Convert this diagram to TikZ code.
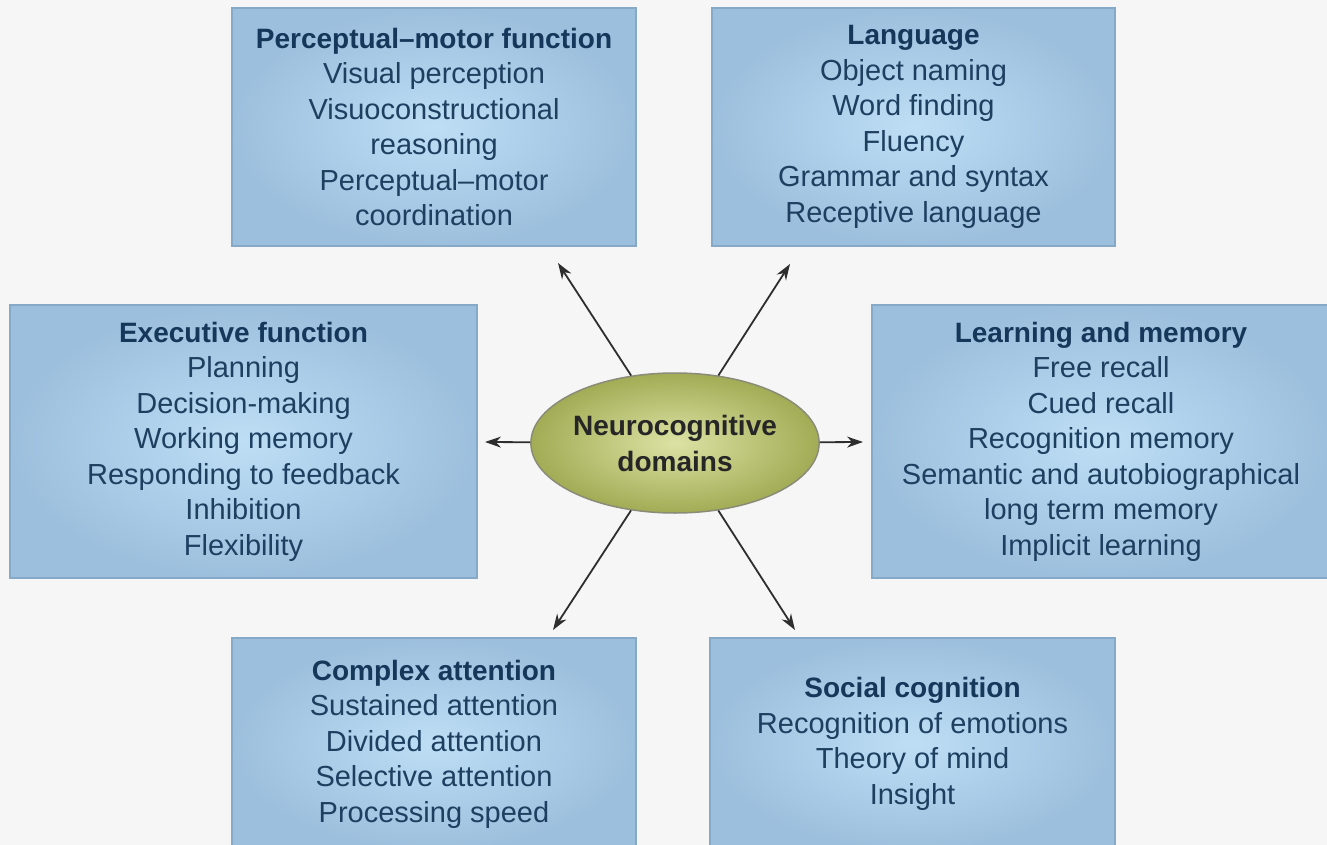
\documentclass[tikz,border=0pt]{standalone}
\usepackage{fontspec}
\setmainfont{Liberation Sans}
\usetikzlibrary{arrows.meta,shapes.geometric}
\definecolor{bg}{HTML}{F6F6F6}
\definecolor{boxin}{HTML}{BEDEF5}
\definecolor{boxout}{HTML}{9CBFDD}
\definecolor{boxedge}{HTML}{86A9C8}
\definecolor{txt}{HTML}{1E3F60}
\definecolor{ttlc}{HTML}{15375A}
\definecolor{ellin}{HTML}{DCE2A4}
\definecolor{ellout}{HTML}{A2AC55}
\definecolor{elledge}{HTML}{8A8C78}
\definecolor{arrc}{HTML}{2E2E2E}
\newcommand{\ttl}[1]{{\color{ttlc}\bfseries\fontsize{28}{35.5}\selectfont #1}}
\begin{document}
\begin{tikzpicture}[x=1pt,y=-1pt,
  box/.style={rectangle, draw=boxedge, line width=1.2pt, inner color=boxin, outer color=boxout,
    align=center, text=txt, font=\fontsize{29}{35.5}\selectfont, inner sep=0pt},
  hub/.style={ellipse, draw=elledge, line width=1.5pt, inner color=ellin, outer color=ellout,
    align=center, text=black!85, font=\bfseries\fontsize{28}{36}\selectfont, inner sep=0pt,
    minimum width=254pt, minimum height=140pt},
  arr/.style={draw=arrc, line width=1.8pt, -{Stealth[length=16pt,width=11pt]}}]
\useasboundingbox (0,0) rectangle (1327,845);
\clip (0,0) rectangle (1327,845);
\fill[bg] (0,0) rectangle (1327,845);

\node[box, minimum width=404pt, minimum height=238pt] (pm) at (434,127)
  {\ttl{Perceptual–motor function}\\Visual perception\\Visuoconstructional\\reasoning\\Perceptual–motor\\coordination};
\node[box, minimum width=403pt, minimum height=238pt] (lang) at (913.5,127)
  {\ttl{Language}\\Object naming\\Word finding\\Fluency\\Grammar and syntax\\Receptive language};
\node[box, minimum width=467pt, minimum height=273pt] (exec) at (243.5,441.5)
  {\ttl{Executive function}\\Planning\\Decision-making\\Working memory\\Responding to feedback\\Inhibition\\Flexibility};
\node[box, minimum width=458pt, minimum height=273pt] (learn) at (1101,441.5)
  {\ttl{Learning and memory}\\Free recall\\Cued recall\\Recognition memory\\Semantic and autobiographical\\long term memory\\Implicit learning};
\node[box, minimum width=404pt, minimum height=212pt] (att) at (434,744)
  {\ttl{Complex attention}\\Sustained attention\\Divided attention\\Selective attention\\Processing speed};
\node[box, minimum width=405pt, minimum height=212pt] (soc) at (912.5,744)
  {\ttl{Social cognition}\\Recognition of emotions\\Theory of mind\\Insight};

\node[hub] (c) at (675,443) {Neurocognitive\\domains};

\coordinate (tUL) at (558,263);
\coordinate (tUR) at (790,264);
\coordinate (tL) at (485,442);
\coordinate (tR) at (863,442);
\coordinate (tLL) at (553,630);
\coordinate (tLR) at (795,630);

\draw[arr] (c) -- (tUL);
\draw[arr] (c) -- (tUR);
\draw[arr] (c) -- (tL);
\draw[arr] (c) -- (tR);
\draw[arr] (c) -- (tLL);
\draw[arr] (c) -- (tLR);
\end{tikzpicture}
\end{document}
